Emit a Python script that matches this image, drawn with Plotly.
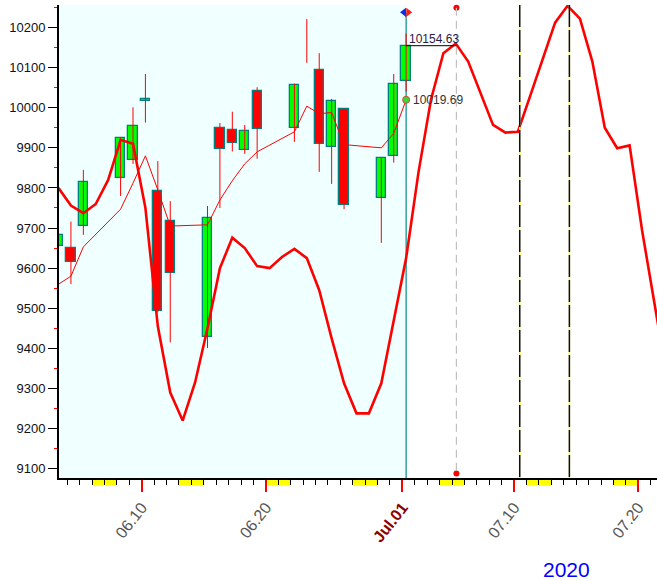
import plotly.graph_objects as go
from datetime import date

# ---------------- data ----------------
candle_dates = ["2020-06-03", "2020-06-04", "2020-06-05", "2020-06-08", "2020-06-09",
                "2020-06-10", "2020-06-11", "2020-06-12", "2020-06-15", "2020-06-16",
                "2020-06-17", "2020-06-18", "2020-06-19", "2020-06-22", "2020-06-23",
                "2020-06-24", "2020-06-25", "2020-06-26", "2020-06-29", "2020-06-30",
                "2020-07-01"]
open_p = [9655, 9650, 9706, 9826, 9869, 10016, 9792, 9717, 9429, 9949,
          9944, 9894, 10042, 9949, 10131, 10093, 9901, 9996, 9774, 9879, 10066]
high_p = [9703, 9716, 9845, 9925, 10001, 10084, 9867, 9767, 9755, 9962,
          9990, 9957, 10051, 10060, 10221, 10136, 10022, 9998, 9874, 10084, 10185]
low_p = [9632, 9560, 9683, 9780, 9860, 9963, 9490, 9415, 9401, 9750,
         9891, 9885, 9873, 9915, 10112, 9840, 9810, 9747, 9663, 9863, 10040]
close_p = [9683, 9616, 9814, 9924, 9954, 10022, 9493, 9589, 9726, 9896,
           9911, 9943, 9946, 10056, 10131, 9909, 10017, 9757, 9874, 10058, 10154.63]
ma_values = [9560, 9580, 9653, 9747, 9812, 9880, 9795, 9705, 9708, 9770,
             9818, 9860, 9890, 9940, 10004, 9985, 9988, 9908, 9900, 9936, 10019.69]

cycle_start = "2020-06-03"
cycle_values = [9800, 9756, 9737, 9760, 9820, 9920, 9910, 9750, 9455, 9290,
                9220, 9315, 9450, 9600, 9676, 9650, 9605, 9600, 9628, 9648,
                9625, 9545, 9425, 9313, 9238, 9238, 9313, 9470, 9625, 9840,
                10020, 10136, 10160, 10115, 10036, 9957, 9938, 9940, 10030, 10121,
                10212, 10254, 10222, 10115, 9950, 9899, 9906, 9695, 9510, 9330]

tick_dates = ["2020-06-10", "2020-06-20", "2020-07-01", "2020-07-10", "2020-07-20"]
tick_labels = ["06.10", "06.20", "Jul.01", "07.10", "07.20"]
weekend_dates = ["2020-06-06", "2020-06-13", "2020-06-20", "2020-06-27",
                 "2020-07-04", "2020-07-11", "2020-07-18"]
y_ticks = [9100, 9200, 9300, 9400, 9500, 9600, 9700, 9800, 9900, 10000, 10100, 10200]
y_minor = [9150, 9250, 9350, 9450, 9550, 9650, 9750, 9850, 9950, 10050, 10150, 10250]
peak_date = "2020-07-05"
turn_dates = ["2020-07-10", "2020-07-14"]
last_close = 10154.63
last_ma = 10019.69
year_label = "2020"

# ---------------- helpers ----------------
ORIGIN = date(2020, 5, 31)


def day(s):
    return (date.fromisoformat(s) - ORIGIN).days


X0, X1 = 3.339, 51.507
Y0, Y1 = 9076.8, 10256.1
OFF = 0.3

cx = [day(d) + OFF for d in candle_dates]
last_x = cx[-1]
peak_x = day(peak_date) + 0.35
turn_x = [day(d) + 0.45 for d in turn_dates]

fig = go.Figure()

# wicks
wx, wy = [], []
for x, lo, hi in zip(cx, low_p, high_p):
    wx += [x, x, None]
    wy += [lo, hi, None]
fig.add_trace(go.Scatter(x=wx, y=wy, mode="lines", line=dict(color="#ff0000", width=1),
                         hoverinfo="skip", showlegend=False))

# bodies
base = [min(o, c) for o, c in zip(open_p, close_p)]
height = [abs(c - o) for o, c in zip(open_p, close_p)]
colors = ["#00ff00" if c >= o else "#ff0000" for o, c in zip(open_p, close_p)]
line_w = [1.3 if h > 0 else 0 for h in height]
fig.add_trace(go.Bar(x=cx, y=height, base=base, width=0.75,
                     marker=dict(color=colors, line=dict(color="#008080", width=line_w)),
                     showlegend=False, hoverinfo="skip"))

# moving average thin line
fig.add_trace(go.Scatter(x=cx, y=ma_values, mode="lines",
                         line=dict(color="#ff0000", width=1), showlegend=False))

# cycle thick line
c0 = day(cycle_start)
cyx = [c0 + i + 0.3 for i in range(len(cycle_values))]
fig.add_trace(go.Scatter(x=cyx, y=cycle_values, mode="lines",
                         line=dict(color="#ff0000", width=2.6), showlegend=False))

# markers
fig.add_trace(go.Scatter(x=[last_x], y=[last_ma], mode="markers",
                         marker=dict(color="#33dd33", size=7, line=dict(color="#e04040", width=1)),
                         showlegend=False, cliponaxis=False))
fig.add_trace(go.Scatter(x=[peak_x, peak_x], y=[10249, 9088], mode="markers",
                         marker=dict(color="#ff0000", size=6), showlegend=False, cliponaxis=False))
fig.add_trace(go.Scatter(x=[last_x - 0.17], y=[10238], mode="markers",
                         marker=dict(color="#1030e0", size=8, symbol="triangle-left"),
                         showlegend=False, cliponaxis=False))
fig.add_trace(go.Scatter(x=[last_x + 0.17], y=[10238], mode="markers",
                         marker=dict(color="#ff2020", size=8, symbol="triangle-right"),
                         showlegend=False, cliponaxis=False))

shapes = []
# light cyan history region
shapes.append(dict(type="rect", xref="x", yref="paper", x0=X0, x1=last_x, y0=0, y1=1,
                   fillcolor="#f0ffff", line=dict(width=0), layer="below"))
# teal vertical line at last bar
shapes.append(dict(type="line", xref="x", yref="y", x0=last_x, x1=last_x, y0=10238, y1=Y0,
                   line=dict(color="#008b8b", width=1.2), layer="below"))
# weekend markers
for d in weekend_dates:
    s = day(d)
    shapes.append(dict(type="rect", xref="x", yref="paper", x0=s, x1=s + 2,
                       y0=-0.0163, y1=-0.002, fillcolor="#ffff00", line=dict(width=0),
                       layer="below"))
# grey dashed at forecast peak
shapes.append(dict(type="line", xref="x", yref="y", x0=peak_x, x1=peak_x, y0=10249, y1=9088,
                   line=dict(color="#c0c0c0", width=1.2, dash="8px,5px")))
# navy turn lines
for tx in turn_x:
    shapes.append(dict(type="line", xref="x", yref="y", x0=tx, x1=tx, y0=Y1, y1=Y0,
                       line=dict(color="#ffff00", width=1.5)))
    shapes.append(dict(type="line", xref="x", yref="y", x0=tx, x1=tx, y0=Y1, y1=Y0,
                       line=dict(color="#000080", width=1.5, dash="22px,3px")))
# black level line at last close
shapes.append(dict(type="line", xref="x", yref="y", x0=last_x, x1=peak_x, y0=last_close,
                   y1=last_close, line=dict(color="#000000", width=1)))

annotations = [
    dict(x=last_x, y=last_close, xref="x", yref="y", text=f"{last_close:.2f}",
         showarrow=False, xanchor="left", yanchor="bottom", xshift=1, yshift=-2,
         font=dict(family="Liberation Sans", size=12, color="#2a1a48")),
    dict(x=last_x, y=last_ma, xref="x", yref="y", text=f"{last_ma:.2f}",
         showarrow=False, xanchor="left", yanchor="middle", xshift=5,
         font=dict(family="Liberation Sans", size=12, color="#333333")),
    dict(x=0.848, y=-0.1945, xref="paper", yref="paper", text=year_label, showarrow=False,
         xanchor="center", yanchor="middle",
         font=dict(family="Liberation Sans", size=21, color="#0000ff")),
]

ticktext = [f"<b><span style='color:#8b0000'>{t}</span></b>" if t.startswith("Jul") else t
            for t in tick_labels]

fig.update_layout(
    width=657, height=581,
    margin=dict(l=59, r=0, t=5, b=103, autoexpand=False),
    paper_bgcolor="white", plot_bgcolor="white",
    shapes=shapes, annotations=annotations,
    showlegend=False, bargap=0,
    xaxis=dict(range=[X0, X1], showgrid=False, zeroline=False, automargin=False,
               showline=True, linecolor="black", linewidth=1.5,
               tickmode="array", tickvals=[day(d) for d in tick_dates], ticktext=ticktext,
               ticks="outside", ticklen=12, tickcolor="#ff0000", tickwidth=1.5,
               tickangle=-52,
               tickfont=dict(family="Liberation Sans", size=16, color="#555555"),
               minor=dict(tickmode="array", tickvals=list(range(4, 52)), ticks="outside",
                          ticklen=5, tickcolor="black", tickwidth=1)),
    yaxis=dict(range=[Y0, Y1], showgrid=False, zeroline=False, automargin=False,
               showline=True, linecolor="black", linewidth=2,
               tickmode="array", tickvals=y_ticks, ticktext=[str(v) for v in y_ticks],
               ticks="outside", ticklen=9, tickcolor="black", tickwidth=1,
               tickfont=dict(family="Liberation Sans", size=13, color="#111111"),
               minor=dict(tickmode="array", tickvals=y_minor, ticks="outside",
                          ticklen=3, tickcolor="#ff0000", tickwidth=1)),
)

fig.write_html("out.html", config={"displayModeBar": False},
               post_script="document.body.style.margin='0';document.body.style.padding='0';")
